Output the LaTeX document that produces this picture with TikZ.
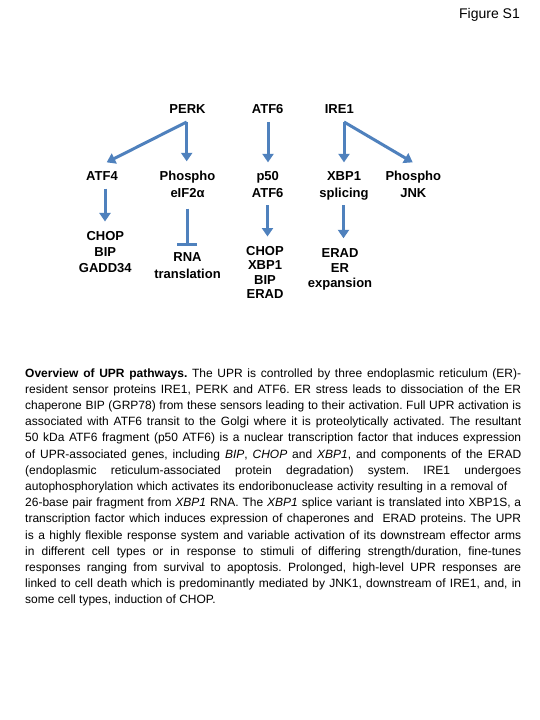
\documentclass[tikz,border=0pt]{standalone}
\usepackage{fontspec}
\setmainfont{Liberation Sans}
\usetikzlibrary{arrows.meta}
\definecolor{arrowblue}{HTML}{4F81BD}
\frenchspacing
\newcommand{\stk}[2]{{\fontsize{13}{#1}\selectfont\bfseries\begin{tabular}[t]{@{}c@{}}#2\end{tabular}}}
\newcommand{\cl}[1]{\makebox[496pt][s]{#1}\\}
\tikzset{
  lbl/.style={inner sep=0pt, anchor=base},
  arr/.style={draw=arrowblue, line width=3pt, -{Triangle[width=11pt,length=8.5pt]}},
  inh/.style={draw=arrowblue, line width=3pt, -{Bar[width=20pt,line width=3pt]}}
}
\begin{document}
\begin{tikzpicture}[x=1pt,y=-1pt]
\fill[white] (0,0) rectangle (540,720);
\useasboundingbox (0,0) rectangle (540,720);

\node[inner sep=0pt, anchor=base east] (title) at (520,18.8) {\fontsize{14}{16}\selectfont Figure S1};

% row 1
\node[lbl] (perk) at (187.5,113.8) {\stk{16.5}{PERK}};
\node[lbl] (atf6) at (267.7,113.8) {\stk{16.5}{ATF6}};
\node[lbl] (ire1) at (339.3,113.8) {\stk{16.5}{IRE1}};
% row 2
\node[lbl] (atf4) at (102,180.5) {\stk{16.5}{ATF4}};
\node[lbl] (eif) at (187.5,180.5) {\stk{16.5}{Phospho\\eIF2α}};
\node[lbl] (p50) at (267.7,180.5) {\stk{16.5}{p50\\ATF6}};
\node[lbl] (xbp) at (344,180.5) {\stk{16.5}{XBP1\\splicing}};
\node[lbl] (jnk) at (413.3,180.5) {\stk{16.5}{Phospho\\JNK}};
% row 3
\node[lbl] (c1) at (105.3,240.5) {\stk{16.2}{CHOP\\BIP\\GADD34}};
\node[lbl] (c2) at (187.5,261.8) {\stk{16.5}{RNA\\translation}};
\node[lbl] (c3) at (265,255.2) {\stk{14.5}{CHOP\\XBP1\\BIP\\ERAD}};
\node[lbl] (c4) at (340,257.8) {\stk{15}{ERAD\\ER\\expansion}};

% connectors
\draw[arr] ([shift={(-0.8,3)}]perk.south) -- ([shift={(4.7,-6.4)}]atf4.north);
\draw[arr] ([shift={(-0.8,3)}]perk.south) -- ([shift={(-0.8,-7.4)}]eif.north);
\draw[arr] ([shift={(0.3,3)}]atf6.south) -- ([shift={(0.3,-6.4)}]p50.north);
\draw[arr] ([shift={(4.7,3)}]ire1.south) -- ([shift={(0,-6.4)}]xbp.north);
\draw[arr] ([shift={(4.7,3)}]ire1.south) -- ([shift={(-0.6,-6.4)}]jnk.north);
\draw[arr] ([shift={(3,2.9)}]atf4.south) -- ([shift={(-0.3,-7.5)}]c1.north);
\draw[inh] ([shift={(-0.5,6.4)}]eif.south) -- ([shift={(-0.5,-4.5)}]c2.north);
\draw[arr] ([shift={(-0.2,3)}]p50.south) -- ([shift={(2.5,-8.35)}]c3.north);
\draw[arr] ([shift={(-0.5,3)}]xbp.south) -- ([shift={(3.5,-8.8)}]c4.north);

% caption
\node[inner sep=0pt, anchor=base west] (caption) at (25,377) {\parbox[t]{496pt}{\fontsize{12}{16.2}\selectfont
\cl{\textbf{Overview of UPR pathways.} The UPR is controlled by three endoplasmic reticulum (ER)-}
\cl{resident sensor proteins IRE1, PERK and ATF6. ER stress leads to dissociation of the ER}
\cl{chaperone BIP (GRP78) from these sensors leading to their activation. Full UPR activation is}
\cl{associated with ATF6 transit to the Golgi where it is proteolytically activated. The resultant}
\cl{50 kDa ATF6 fragment (p50 ATF6) is a nuclear transcription factor that induces expression}
\cl{of UPR-associated genes, including \textit{BIP}, \textit{CHOP} and \textit{XBP1}, and components of the ERAD}
\cl{(endoplasmic reticulum-associated protein degradation) system. IRE1 undergoes}
\cl{autophosphorylation which activates its endoribonuclease activity resulting in a removal of\hspace{14pt}}
\cl{26-base pair fragment from \textit{XBP1} RNA. The \textit{XBP1} splice variant is translated into XBP1S, a}
\cl{transcription factor which induces expression of chaperones and\ \ ERAD proteins. The UPR}
\cl{is a highly flexible response system and variable activation of its downstream effector arms}
\cl{in different cell types or in response to stimuli of differing strength/duration, fine-tunes}
\cl{responses ranging from survival to apoptosis. Prolonged, high-level UPR responses are}
\cl{linked to cell death which is predominantly mediated by JNK1, downstream of IRE1, and, in}
some cell types, induction of CHOP.}};
\end{tikzpicture}
\end{document}
